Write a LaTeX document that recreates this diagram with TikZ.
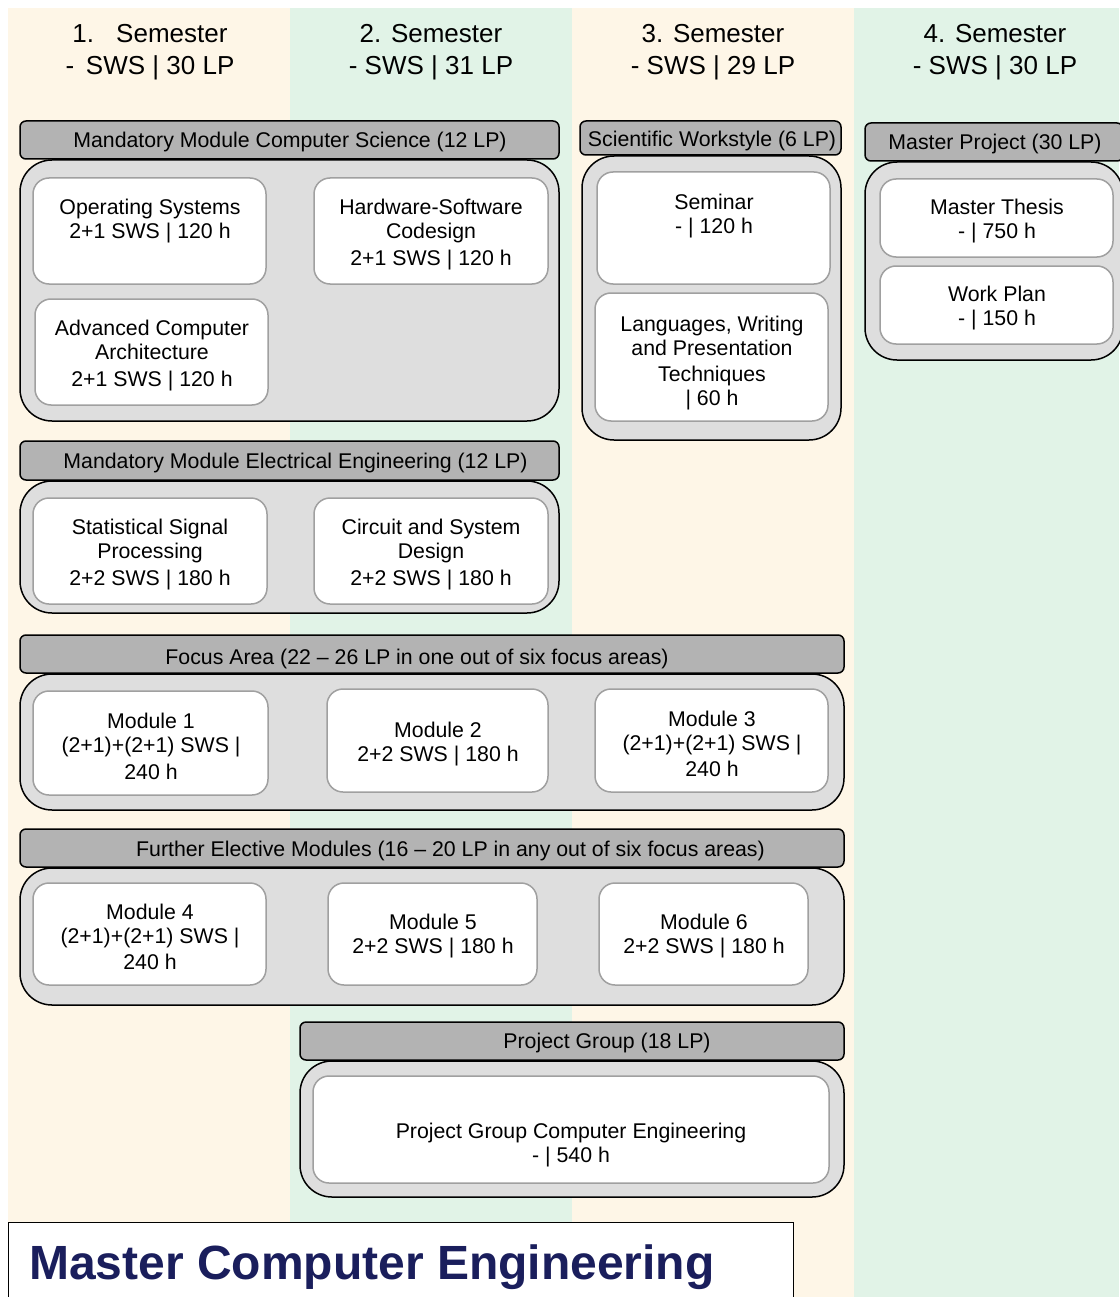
\documentclass[tikz,border=0pt]{standalone}
\usepackage{fontspec}
\setmainfont{Liberation Sans}
\definecolor{cream}{HTML}{FEF6E7}
\definecolor{mint}{HTML}{E1F3E7}
\definecolor{hdrgray}{HTML}{B3B3B3}
\definecolor{bodygray}{HTML}{DEDEDE}
\definecolor{innerline}{HTML}{A0A0A0}
\definecolor{navy}{HTML}{1A1E5C}
\begin{document}
\begin{tikzpicture}[x=1pt,y=-1pt,
 hdr/.style={draw=black, fill=hdrgray, line width=1.5pt, rounded corners=6pt, inner sep=0pt},
 grp/.style={draw=black, fill=bodygray, line width=1.5pt, rounded corners=32pt, inner sep=0pt},
 mod/.style={draw=innerline, fill=white, line width=1.5pt, rounded corners=16pt, inner sep=0pt},
 txt/.style={font=\fontsize{21.3}{24}\selectfont, align=center, inner sep=0pt, yshift=-2.5pt},
 semtxt/.style={font=\fontsize{26}{32}\selectfont, align=center, inner sep=0pt, yshift=-2.5pt}]
\useasboundingbox (0,0) rectangle (1119,1297);
% columns
\fill[cream] (8,8) rectangle (290,1297);
\fill[mint] (290,8) rectangle (572,1297);
\fill[cream] (572,8) rectangle (854,1297);
\fill[mint] (854,8) rectangle (1119,1297);
% semester headers
\node[semtxt] (s1) at (150,50) {1.\hspace{0.85em}Semester\\-\hspace{0.45em}SWS | 30 LP};
\node[semtxt] (s2) at (431,50) {2. Semester\\- SWS | 31 LP};
\node[semtxt] (s3) at (713,50) {3. Semester\\- SWS | 29 LP};
\node[semtxt] (s4) at (995,50) {4. Semester\\- SWS | 30 LP};

% group 1
\node[hdr, minimum width=539, minimum height=38] (g1h) at (289.5,140) {};
\node[txt] (g1t) at (290,139) {Mandatory Module Computer Science (12 LP)};
\node[grp, minimum width=539, minimum height=261] (g1b) at (289.5,290.5) {};
\node[mod, minimum width=233, minimum height=106] (os) at (149.5,231) {};
\node[txt] (ost) at (150,219) {Operating Systems\\2+1 SWS | 120 h};
\node[mod, minimum width=234, minimum height=106] (hw) at (431,231) {};
\node[txt] (hwt) at (431,232) {Hardware-Software\\Codesign\\[3pt]2+1 SWS | 120 h};
\node[mod, minimum width=233, minimum height=106] (aca) at (151.5,352) {};
\node[txt] (acat) at (152,353) {Advanced Computer\\Architecture\\[3pt]2+1 SWS | 120 h};

% group 2
\node[hdr, minimum width=539, minimum height=39] (g2h) at (289.5,460.5) {};
\node[txt] (g2t) at (295.5,460) {Mandatory Module Electrical Engineering (12 LP)};
\node[grp, minimum width=539, minimum height=132] (g2b) at (289.5,547) {};
\node[mod, minimum width=234, minimum height=106] (ssp) at (150,551) {};
\node[txt] (sspt) at (150,552) {Statistical Signal\\Processing\\[3pt]2+2 SWS | 180 h};
\node[mod, minimum width=234, minimum height=106] (csd) at (431,551) {};
\node[txt] (csdt) at (431,552) {Circuit and System\\Design\\[3pt]2+2 SWS | 180 h};

% group 3
\node[hdr, minimum width=261, minimum height=34] (g3h) at (710.5,138) {};
\node[txt] (g3t) at (712,138) {Scientific Workstyle (6 LP)};
\node[grp, minimum width=259, minimum height=284] (g3b) at (711.5,298) {};
\node[mod, minimum width=233, minimum height=112] (sem) at (713.5,228) {};
\node[txt] (semt) at (714,213.5) {Seminar\\- | 120 h};
\node[mod, minimum width=233, minimum height=128] (lwp) at (711.5,357) {};
\node[txt] (lwpt) at (712,361) {Languages, Writing\\and Presentation\\[2pt]Techniques\\| 60 h};

% group 4
\node[hdr, minimum width=258, minimum height=38] (g4h) at (994,142) {};
\node[txt] (g4t) at (995,141) {Master Project (30 LP)};
\node[grp, minimum width=258, minimum height=198] (g4b) at (994,261) {};
\node[mod, minimum width=233, minimum height=78] (mt) at (996.5,218) {};
\node[txt] (mtt) at (997,219) {Master Thesis\\- | 750 h};
\node[mod, minimum width=233, minimum height=78] (wp) at (996.5,305) {};
\node[txt] (wpt) at (997,306) {Work Plan\\- | 150 h};

% group 5
\node[hdr, minimum width=824, minimum height=38] (g5h) at (432,654) {};
\node[txt] (g5t) at (417,656) {Focus Area (22 – 26 LP in one out of six focus areas)};
\node[grp, minimum width=824, minimum height=136] (g5b) at (432,742) {};
\node[mod, minimum width=235, minimum height=104] (m1) at (150.5,743) {};
\node[txt] (m1t) at (151,743.5) {Module 1\\(2+1)+(2+1) SWS |\\[3pt]240 h};
\node[mod, minimum width=221, minimum height=103] (m2) at (437.5,740.5) {};
\node[txt] (m2t) at (438,742) {Module 2\\2+2 SWS | 180 h};
\node[mod, minimum width=233, minimum height=103] (m3) at (711.5,740.5) {};
\node[txt] (m3t) at (712,741.5) {Module 3\\(2+1)+(2+1) SWS |\\[2pt]240 h};

% group 6
\node[hdr, minimum width=824, minimum height=38] (g6h) at (432,848) {};
\node[txt] (g6t) at (450.5,848) {Further Elective Modules (16 – 20 LP in any out of six focus areas)};
\node[grp, minimum width=824, minimum height=137] (g6b) at (432,936.5) {};
\node[mod, minimum width=233, minimum height=102] (m4) at (149.5,934) {};
\node[txt] (m4t) at (150,934.5) {Module 4\\(2+1)+(2+1) SWS |\\[2pt]240 h};
\node[mod, minimum width=209, minimum height=102] (m5) at (432.5,934) {};
\node[txt] (m5t) at (433,934) {Module 5\\2+2 SWS | 180 h};
\node[mod, minimum width=209, minimum height=102] (m6) at (703.5,934) {};
\node[txt] (m6t) at (704,934) {Module 6\\2+2 SWS | 180 h};

% group 7
\node[hdr, minimum width=544, minimum height=38] (g7h) at (572,1041) {};
\node[txt] (g7t) at (607,1040) {Project Group (18 LP)};
\node[grp, minimum width=544, minimum height=136] (g7b) at (572,1129) {};
\node[mod, minimum width=516, minimum height=107] (pg) at (571,1129.5) {};
\node[txt] (pgt) at (571,1142.5) {Project Group Computer Engineering\\- | 540 h};

% title
\draw[black, fill=white, line width=1pt] (8,1222) rectangle (793,1310);
\node[anchor=west, inner sep=0pt, font=\fontsize{48}{56}\selectfont\bfseries, text=navy] (title) at (29,1267) {Master Computer Engineering};
\end{tikzpicture}
\end{document}
